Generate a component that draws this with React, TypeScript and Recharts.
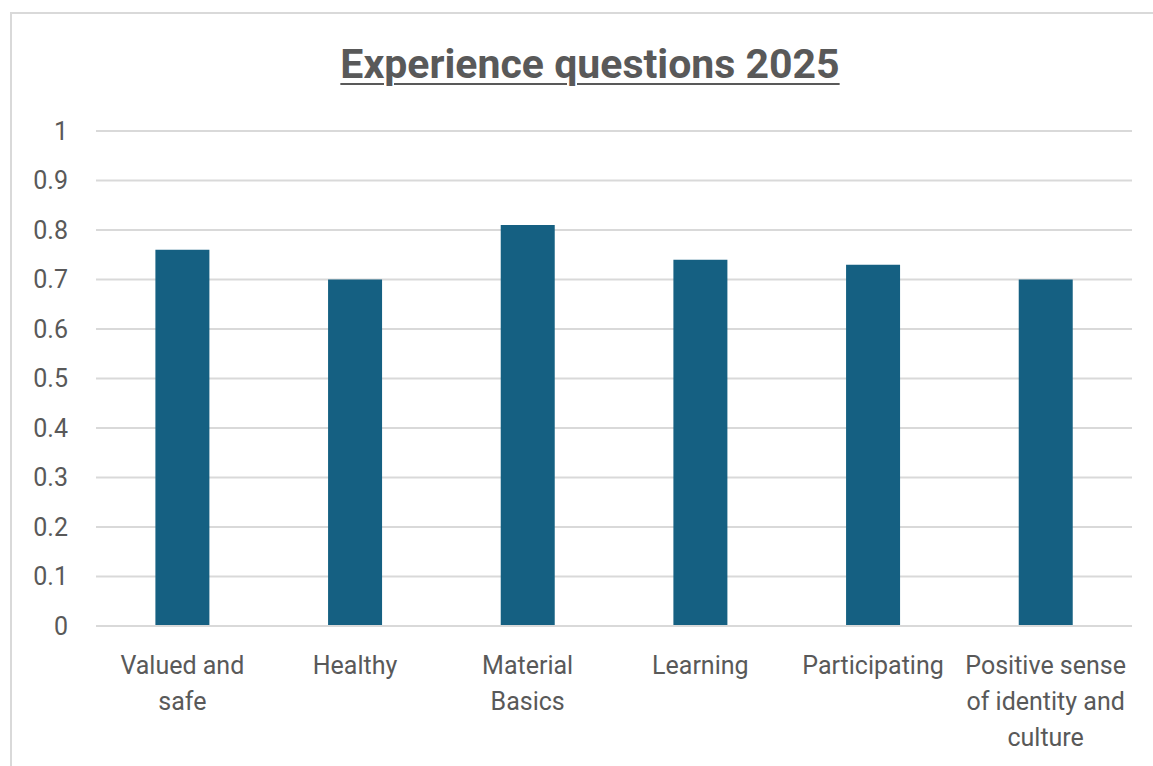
import React from "react";
import { BarChart, Bar, XAxis, YAxis, CartesianGrid } from "recharts";

const categories = [
  "Valued and safe",
  "Healthy",
  "Material Basics",
  "Learning",
  "Participating",
  "Positive sense of identity and culture",
];
const tickLines = [
  ["Valued and", "safe"],
  ["Healthy"],
  ["Material", "Basics"],
  ["Learning"],
  ["Participating"],
  ["Positive sense", "of identity and", "culture"],
];
const values = [0.76, 0.7, 0.81, 0.74, 0.73, 0.7];
const yTicks = [0, 0.1, 0.2, 0.3, 0.4, 0.5, 0.6, 0.7, 0.8, 0.9, 1];

const data = categories.map((c, i) => ({ name: c, value: values[i] }));

const FONT = "Roboto, 'Open Sans', sans-serif";
const GREY = "#595959";

const XTick = (props: any) => {
  const { x, y, index } = props;
  const lines = tickLines[index] || [];
  return (
    <g>
      {lines.map((l: string, i: number) => (
        <text
          key={i}
          x={x}
          y={y + 40 + i * 36}
          textAnchor="middle"
          fill={GREY}
          fontSize={25}
          fontFamily={FONT}
        >
          {l}
        </text>
      ))}
    </g>
  );
};

export default function App() {
  return (
    <div style={{ position: "fixed", left: 0, top: 0, width: 1153, height: 766, overflow: "hidden", background: "#fff" }}>
      <div
        style={{
          position: "absolute",
          left: 10,
          top: 12,
          width: 1200,
          height: 800,
          borderTop: "2px solid #d9d9d9",
          borderLeft: "2px solid #d9d9d9",
        }}
      />
      <div
        style={{
          position: "absolute",
          left: 0,
          top: 40,
          width: 1180,
          textAlign: "center",
          fontFamily: FONT,
          fontWeight: 700,
          fontSize: 41,
          color: GREY,
          textDecoration: "underline",
          textDecorationThickness: 2,
          textUnderlineOffset: 5,
          lineHeight: "48px",
        }}
      >
        Experience questions 2025
      </div>
      <div style={{ position: "absolute", left: 0, top: 0 }}>
        <BarChart
          width={1153}
          height={766}
          data={data}
          margin={{ top: 131, right: 21, bottom: 0, left: 0 }}
          barCategoryGap="34.4%"
        >
          <CartesianGrid vertical={false} stroke="#d9d9d9" strokeWidth={2} />
          <XAxis
            dataKey="name"
            axisLine={{ stroke: "#d9d9d9", strokeWidth: 2 }}
            tickLine={false}
            tick={<XTick />}
            interval={0}
            height={140}
          />
          <YAxis
            domain={[0, 1]}
            ticks={yTicks}
            axisLine={false}
            tickLine={false}
            width={96}
            tickSize={0}
            tickMargin={28}
            tick={{ fill: GREY, fontSize: 25, fontFamily: FONT }}
            tickFormatter={(v: number) => String(v)}
          />
          <Bar dataKey="value" fill="#156082" isAnimationActive={false} />
        </BarChart>
      </div>
    </div>
  );
}
